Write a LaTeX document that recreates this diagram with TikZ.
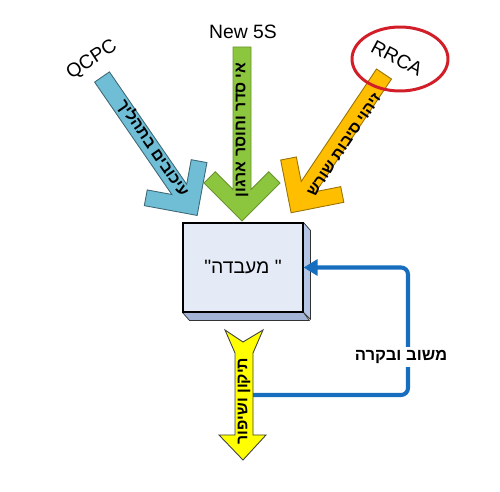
\documentclass[tikz,border=0pt]{standalone}
\usepackage{fontspec}
\setmainfont{Liberation Sans}
\newfontfamily\heb[Script=Hebrew]{Liberation Sans}
\TeXXeTstate=1
\usetikzlibrary{arrows.meta}
\definecolor{cblue}{RGB}{112,190,214}
\definecolor{cgreen}{RGB}{140,198,63}
\definecolor{corange}{RGB}{255,190,0}
\definecolor{cyellow}{RGB}{255,255,0}
\definecolor{fbblue}{RGB}{24,110,190}
\definecolor{boxfront}{RGB}{228,234,246}
\definecolor{boxright}{RGB}{180,196,228}
\definecolor{boxbottom}{RGB}{164,180,214}
\definecolor{ringred}{RGB}{210,30,40}
\newcommand{\chevpath}[1]{(0,-9) -- ({#1-31.6},-9) -- ({#1-49.3},-26.7) -- ({#1-38},-38) -- (#1,0) -- ({#1-38},38) -- ({#1-49.3},26.7) -- ({#1-31.6},9) -- (0,9) -- cycle}
\tikzset{
  arrowshape/.style={line width=0.5pt, line join=miter},
  arrlabel/.style={font=\heb\bfseries\fontsize{9}{10}\selectfont, inner sep=0pt},
  toplabel/.style={font=\fontsize{11}{13}\selectfont, inner sep=0pt},
}
\begin{document}
\begin{tikzpicture}[x=0.02cm, y=-0.02cm]
\useasboundingbox (0,0) rectangle (500,492);
% incoming arrows
\begin{scope}[shift={(102,77)}, rotate=-55.5]
  \draw[arrowshape, fill=cblue, draw=cblue!55!black] \chevpath{168};
\end{scope}
\begin{scope}[shift={(242,47)}, rotate=-90]
  \draw[arrowshape, fill=cgreen, draw=cgreen!75!black] \chevpath{174};
\end{scope}
\begin{scope}[shift={(384,74)}, rotate=-123.8]
  \draw[arrowshape, fill=corange, draw=corange!60!black] \chevpath{167};
\end{scope}
% arrow labels
\node[arrlabel, rotate=-55.5] (tblue) at (153,148) {\beginR עיכובים בתהליך\endR};
\node[arrlabel, rotate=90] (tgreen) at (242,130) {\beginR אי סדר וחוסר ארגון\endR};
\node[arrlabel, rotate=56.2] (torange) at (344,145) {\beginR זיהוי סיבות שורש\endR};
% top labels
\node[toplabel, rotate=33] (qcpc) at (92,60) {QCPC};
\node[toplabel] (new5s) at (243,32) {New 5S};
\node[toplabel, rotate=-28] (rrca) at (397,58) {RRCA};
\draw[ringred, line width=1.7pt] (400,59) ellipse [x radius=0.96cm, y radius=0.64cm];
% 3D box
\node[draw=black, line width=0.6pt, fill=boxfront, minimum width=2.4cm, minimum height=1.78cm, inner sep=0pt,
      font=\heb\fontsize{11}{13}\selectfont] (lab) at (243,267.5) {\beginR" מעבדה"\endR};
\draw[fill=boxright, draw=black!80, line width=0.4pt, line join=round] (lab.north east) -- ++(7,8) -- ++(0,89) -- (lab.south east) -- cycle;
\draw[fill=boxbottom, draw=black!80, line width=0.4pt, line join=round] (lab.south west) -- ++(7,8) -- ++(120,0) -- (lab.south east) -- cycle;
\draw[line width=0.6pt] (lab.north west) rectangle (lab.south east);
% yellow output arrow
\draw[fill=cyellow, draw=black!75, line width=0.5pt, line join=miter]
  (225,330) -- (243,342) -- (263,330) -- (253,353) -- (253,435) -- (266,435) -- (243,460)
  -- (219,435) -- (235,435) -- (235,353) -- cycle;
\node[arrlabel, rotate=90] (tyellow) at (244,401) {\beginR תיקון ושיפור\endR};
% feedback loop
\coordinate (fbstart) at (253,395);
\coordinate (fbcorner1) at (408,395);
\coordinate (fbcorner2) at (408,267.5);
\draw[fbblue, line width=2.3pt, rounded corners=0.14cm, -{Triangle[length=8pt, width=9pt]}]
  (fbstart) -- (fbcorner1) -- (fbcorner2) -- (lab.east);
\node[fill=white, inner sep=2pt, font=\heb\bfseries\fontsize{9.5}{11}\selectfont] (fblabel) at (401,357) {\beginR משוב ובקרה\endR};
\end{tikzpicture}
\end{document}
